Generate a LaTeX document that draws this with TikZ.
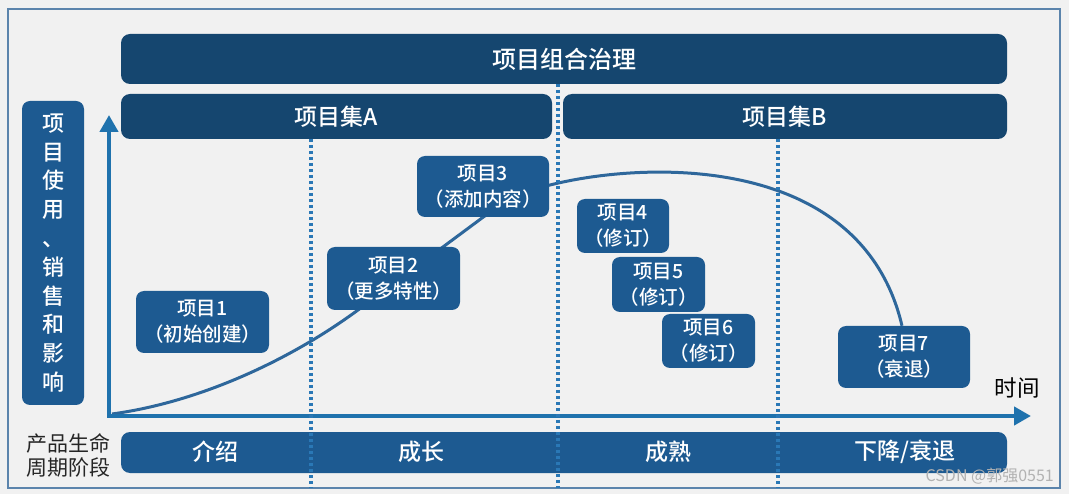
\documentclass[tikz,border=0pt]{standalone}
\usepackage{fontspec}
\setmainfont{Noto Sans CJK SC}[BoldFont={Noto Sans CJK SC Medium}]
\usetikzlibrary{arrows.meta}

\definecolor{bgGray}{HTML}{F1F1F1}
\definecolor{frameBlue}{HTML}{5B84AC}
\definecolor{navyBar}{HTML}{15466F}
\definecolor{boxBlue}{HTML}{1D5A91}
\definecolor{axisBlue}{HTML}{1F72AD}
\definecolor{curveBlue}{HTML}{2E679B}
\definecolor{dotBlue}{HTML}{2A78B6}

\pgfdeclarelayer{back}
\pgfdeclarelayer{mid}
\pgfsetlayers{back,mid,main}

\begin{document}
\begin{tikzpicture}[x=1pt, y=-1pt, line join=round,
  bar/.style={fill=navyBar, rounded corners=9pt, text=white, inner sep=0pt, font=\fontsize{23}{26}\selectfont\bfseries},
  item/.style={fill=boxBlue, rounded corners=8pt, text=white, align=center, inner sep=0pt, font=\fontsize{19.5}{26}\selectfont\bfseries},
  stage/.style={text=white, inner sep=0pt, font=\fontsize{23}{26}\selectfont\bfseries},
  phase/.style={draw=dotBlue, line width=3.5pt, dash pattern=on 3pt off 3pt},
  axis/.style={draw=axisBlue, line width=4.5pt, line join=miter,
    {Triangle[width=18pt,length=17pt]}-{Triangle[width=18pt,length=17pt]}},
]

  %% ════ 底色与外框 ════
  \begin{pgfonlayer}{back}
    \fill[bgGray] (0,0) rectangle (1069,494);
    \draw[frameBlue, line width=1.5pt] (8,9) rectangle (1060,488);
  \end{pgfonlayer}

  %% ════ 治理层（两行横条）════
  \node[bar, minimum width=886pt, minimum height=50pt, font=\fontsize{24}{26}\selectfont\bfseries] (pfm) at (564,59) {项目组合治理};
  \node[bar, minimum width=431pt, minimum height=45pt] (setA) at (336.5,116.5) {项目集A};
  \node[bar, minimum width=444pt, minimum height=45pt] (setB) at (785,116.5) {项目集B};

  %% ════ 纵轴标签 ════
  \node[item, minimum width=62pt, minimum height=304pt, font=\fontsize{22}{28.8}\selectfont\bfseries] (yLabel) at (53,253)
    {项\\目\\使\\用\\、\\销\\售\\和\\影\\响};

  %% ════ 坐标轴 ════
  \coordinate (origin) at (109,416);
  \coordinate (yTop) at (109,115);
  \coordinate (xEnd) at (1031,416);
  \draw[axis] (yTop) -- (origin) -- (xEnd);
  \node[font=\fontsize{22.5}{24}\selectfont] (timeLbl) at (1017,388) {时间};

  %% ════ 各项目 ════
  \node[item, minimum width=133pt, minimum height=62pt] (item1) at (202.5,322) {项目1\\（初始创建）};
  \node[item, minimum width=133pt, minimum height=63pt] (item2) at (393.5,278.5) {项目2\\（更多特性）};
  \node[item, minimum width=132pt, minimum height=61pt] (item3) at (483,186.5) {项目3\\（添加内容）};
  \node[item, minimum width=92pt, minimum height=54pt] (item4) at (623,226) {项目4\\（修订）};
  \node[item, minimum width=93pt, minimum height=55pt] (item5) at (658.5,284.5) {项目5\\（修订）};
  \node[item, minimum width=93pt, minimum height=54pt] (item6) at (708.5,341) {项目6\\（修订）};
  \node[item, minimum width=132pt, minimum height=62pt] (item7) at (904,357) {项目7\\（衰退）};

  %% ════ 生命周期曲线（压在方框下面）════
  \begin{pgfonlayer}{mid}
    \draw[curveBlue, line width=3pt] ([shift={(3,-2)}]origin) .. controls (200,402) and (290,360) .. (358,310)
      -- (482,218) .. controls (510,198) and (530,190) .. (550,185)
      .. controls (650,160) and (862,155) .. ([xshift=-2pt]item7.north);
  \end{pgfonlayer}

  %% ════ 阶段条 ════
  \node[bar, fill=boxBlue, minimum width=886pt, minimum height=41pt] (stages) at (564,452.5) {};
  \node[stage] (intro) at (215,452) {介绍};
  \node[stage] (growth) at (421,452) {成长};
  \node[stage] (mature) at (668,452) {成熟};
  \node[stage] (decline) at (905,452) {下降/衰退};
  \node[align=center, text=black!85, inner sep=0pt, font=\fontsize{21}{24}\selectfont] (stageTitle) at (69,455) {产品生命\\周期阶段};

  %% ════ 阶段分隔虚线 ════
  \draw[phase] (311,139) -- (311,488);
  \draw[phase] (558,84) -- (558,488);
  \draw[phase] (778,139) -- (778,488);

  %% 水印
  \node[anchor=east, text=gray!60, inner sep=0pt, font=\fontsize{16}{18}\selectfont] (mark) at (1054,476) {CSDN @郭强0551};

  \pgfresetboundingbox
  \path[use as bounding box] (0,0) rectangle (1069,494);
\end{tikzpicture}
\end{document}
